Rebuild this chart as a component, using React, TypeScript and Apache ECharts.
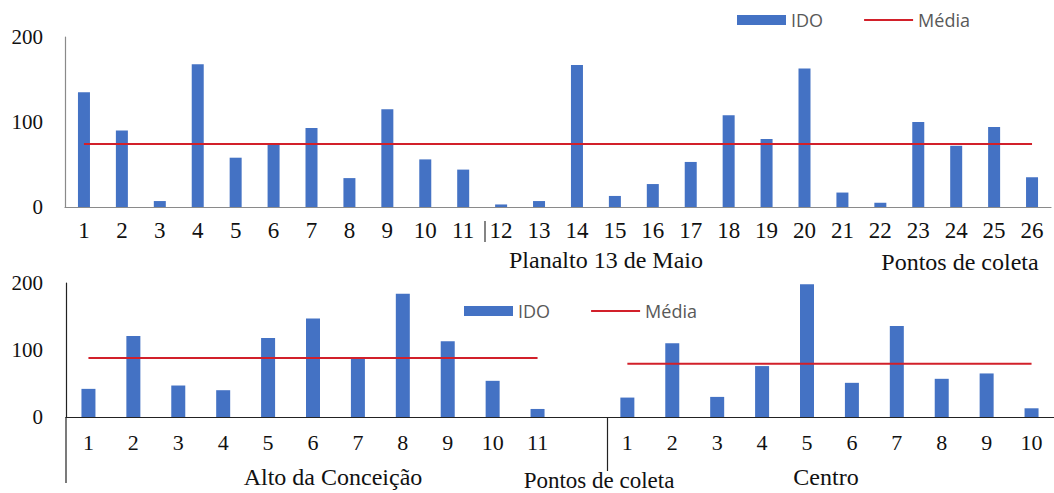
import React, { useEffect, useRef } from "react";
import * as echarts from "echarts";

// ---- data ----
const topCategories = ["1", "2", "3", "4", "5", "6", "7", "8", "9", "10", "11", "12", "13", "14", "15", "16", "17", "18", "19", "20", "21", "22", "23", "24", "25", "26"];
const topIDO = [135, 90, 7, 168, 58, 75, 93, 34, 115, 56, 44, 3, 7, 167, 13, 27, 53, 108, 80, 163, 17, 5, 100, 72, 94, 35];
const topMedia = 74;

const altoCategories = ["1", "2", "3", "4", "5", "6", "7", "8", "9", "10", "11"];
const altoIDO = [42, 121, 47, 40, 118, 147, 88, 184, 113, 54, 12];
const altoMedia = 88;

const centroCategories = ["1", "2", "3", "4", "5", "6", "7", "8", "9", "10"];
const centroIDO = [29, 110, 30, 76, 198, 51, 136, 57, 65, 13];
const centroMedia = 79.5;

const yTicks = [0, 100, 200];

const groupNames = ["Planalto 13 de Maio", "Alto da Conceição", "Centro"];
const axisTitle = "Pontos de coleta";
const seriesNames = ["IDO", "Média"];

// ---- styles ----
const SERIF = '"Liberation Serif", "Times New Roman", serif';
const SANS = '"Open Sans", "Noto Sans", sans-serif';
const BLUE = "#4472C4";
const RED = "#D2202A";

export default function App() {
  const ref = useRef<HTMLDivElement>(null);

  useEffect(() => {
    if (!ref.current) return;
    const chart = echarts.init(ref.current, null, { renderer: "svg" });

    const bottomCategories = [...altoCategories, "", ...centroCategories];
    const bottomIDO = [...altoIDO, null, ...centroIDO];
    const bottomMedia = [
      ...altoCategories.map(() => altoMedia),
      null,
      ...centroCategories.map(() => centroMedia),
    ];
    const topMediaData = topCategories.map(() => topMedia);

    const legendBase = {
      itemWidth: 49,
      itemHeight: 10,
      itemGap: 40,
      selectedMode: false,
      data: [
        { name: seriesNames[0], icon: "rect" },
        { name: seriesNames[1], itemStyle: { opacity: 0 } },
      ],
      textStyle: { fontFamily: SANS, fontSize: 18, color: "#595959" },
    };

    const yAxisBase = (grid: number, color: string, width: number, margin: number) => ({
      gridIndex: grid,
      type: "value",
      min: yTicks[0],
      max: yTicks[yTicks.length - 1],
      interval: yTicks[1] - yTicks[0],
      splitLine: { show: false },
      axisTick: { show: false },
      axisLine: { show: true, lineStyle: { color, width } },
      axisLabel: { margin, fontFamily: SERIF, fontSize: 21, color: "#111" },
    });

    const textEl = (text: string, x: number, y: number, size = 24) => ({
      type: "text",
      x,
      y,
      style: {
        text,
        fontFamily: SERIF,
        fontSize: size,
        fill: "#111",
        textAlign: "center",
        textVerticalAlign: "middle",
      },
    });

    const lineEl = (x1: number, y1: number, x2: number, y2: number, stroke: string) => ({
      type: "line",
      shape: { x1, y1, x2, y2 },
      style: { stroke, lineWidth: 1.2 },
    });

    chart.setOption({
      animation: false,
      backgroundColor: "#ffffff",
      legend: [
        { ...legendBase, left: 732, top: 6 },
        { ...legendBase, left: 459, top: 297 },
      ],
      grid: [
        { left: 65, top: 37, width: 986, height: 170 },
        { left: 66, top: 283, width: 992, height: 134 },
      ],
      xAxis: [
        {
          gridIndex: 0,
          type: "category",
          data: topCategories,
          axisLine: { lineStyle: { color: "#8a8a8a", width: 1.2 } },
          axisTick: { show: false },
          axisLabel: { interval: 0, margin: 12, fontFamily: SERIF, fontSize: 23, color: "#111" },
        },
        {
          gridIndex: 1,
          type: "category",
          data: bottomCategories,
          axisLine: { lineStyle: { color: "#222", width: 1.2 } },
          axisTick: { show: false },
          axisLabel: { interval: 0, margin: 14, fontFamily: SERIF, fontSize: 22, color: "#111" },
        },
      ],
      yAxis: [yAxisBase(0, "#8a8a8a", 1.2, 22), yAxisBase(1, "#222", 1.2, 23)],
      series: [
        {
          name: seriesNames[0],
          type: "bar",
          xAxisIndex: 0,
          yAxisIndex: 0,
          data: topIDO,
          barWidth: 12,
          itemStyle: { color: BLUE },
        },
        {
          name: seriesNames[1],
          type: "line",
          xAxisIndex: 0,
          yAxisIndex: 0,
          data: topMediaData,
          symbol: "none",
          lineStyle: { color: RED, width: 2 },
          itemStyle: { color: RED },
        },
        {
          name: seriesNames[0],
          type: "bar",
          xAxisIndex: 1,
          yAxisIndex: 1,
          data: bottomIDO,
          barWidth: 14,
          itemStyle: { color: BLUE },
        },
        {
          name: seriesNames[1],
          type: "line",
          xAxisIndex: 1,
          yAxisIndex: 1,
          data: bottomMedia,
          symbol: "none",
          connectNulls: false,
          lineStyle: { color: RED, width: 2 },
          itemStyle: { color: RED },
        },
      ],
      graphic: [
        textEl(groupNames[0], 606, 260),
        textEl(axisTitle, 960, 262),
        textEl(groupNames[1], 333, 477),
        textEl(axisTitle, 599, 480, 23),
        textEl(groupNames[2], 826, 477),
        lineEl(485, 221, 485, 242, "#333"),
        lineEl(607.5, 417, 607.5, 471, "#222"),
        lineEl(66, 417, 66, 483, "#222"),
      ],
    });

    return () => chart.dispose();
  }, []);

  return (
    <div
      ref={ref}
      style={{ position: "fixed", left: 0, top: 0, width: 1054, height: 493, background: "#fff" }}
    />
  );
}
